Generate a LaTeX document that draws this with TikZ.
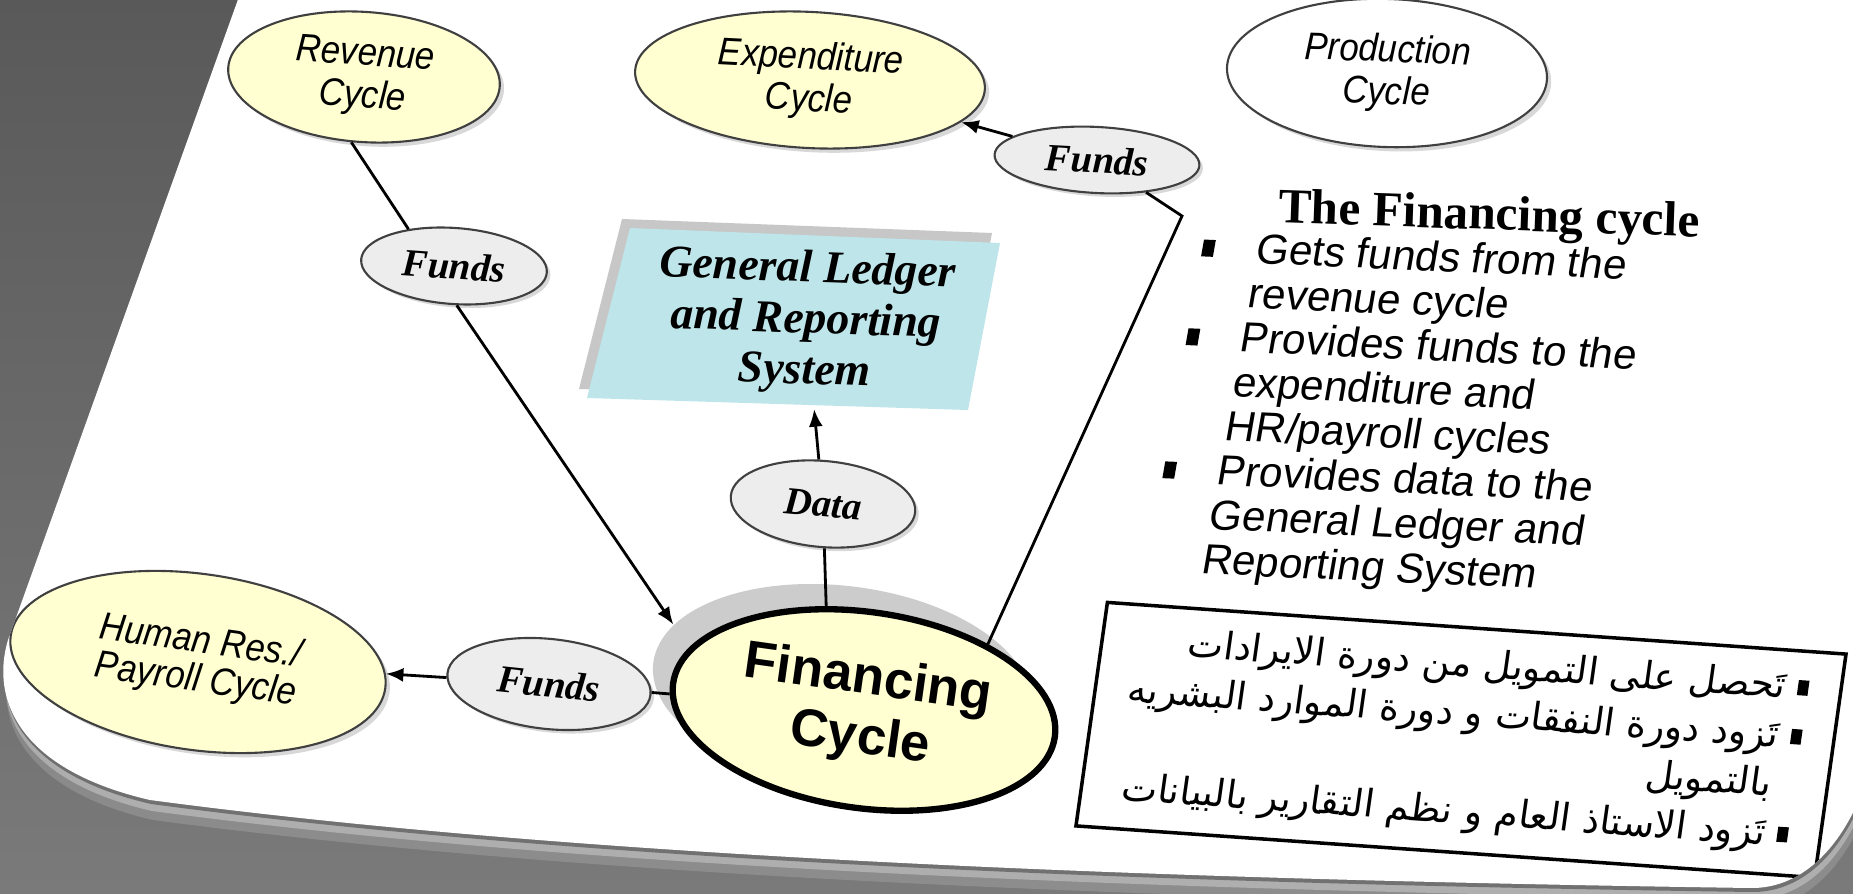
\documentclass[tikz,border=0pt]{standalone}
\usepackage{fontspec}
\setmainfont{Liberation Serif}
\setsansfont{Liberation Sans}
\newfontfamily\cyclefont[FakeStretch=0.9]{Liberation Sans}
\newfontfamily\arabicfont[Script=Arabic]{DejaVu Sans}
\TeXXeTstate=1
\usetikzlibrary{shapes.geometric}
\usetikzlibrary{arrows.meta}
\usetikzlibrary{shadows}
\usetikzlibrary{positioning}

\definecolor{bgtop}{HTML}{595959}
\definecolor{bgbottom}{HTML}{7A7A7A}
\definecolor{cycleyellow}{HTML}{FFFFD2}
\definecolor{flowgray}{HTML}{EDEDED}
\definecolor{ledgercyan}{HTML}{BEE6EA}
\newcommand{\sqbullet}{\rule[0.2ex]{0.28em}{0.4em}}
\newcommand{\panelpath}{(245,-20) -- (8,640) .. controls (-10,700) and (20,770) .. (150,800) .. controls (600,860) and (1200,880) .. (1750,888) .. controls (1800,889) and (1840,850) .. (1863,790) -- (1863,-20) -- cycle}

\begin{document}
\begin{tikzpicture}[x=0.01cm, y=-0.01cm,
    cyclenode/.style={ellipse, draw=black!75, line width=0.6pt, fill=cycleyellow, align=center, inner sep=0pt, font=\cyclefont\itshape\fontsize{11}{12}\selectfont, drop shadow={shadow xshift=1.2pt, shadow yshift=-1.2pt, opacity=0.3}},
    flownode/.style={ellipse, draw=black!75, line width=0.6pt, fill=flowgray, inner sep=0pt, font=\bfseries\itshape\fontsize{11}{12}\selectfont, drop shadow={shadow xshift=1pt, shadow yshift=-1pt, opacity=0.3}},
    link/.style={line width=0.8pt},
    flowarrow/.style={link, -{Latex[length=5pt,width=4pt]}}]
    \useasboundingbox (0,0) rectangle (1853,894);
    \shade [top color=bgtop, bottom color=bgbottom] (0,0) rectangle (1853,894);
    \fill [white, opacity=0.15, shift={(3,20)}] \panelpath;
    \fill [white, opacity=0.3, shift={(2,11)}] \panelpath;
    \fill [black, opacity=0.35, shift={(1,4)}] \panelpath;
    \fill [white] \panelpath;

    \begin{scope}
    \clip \panelpath;

    \node [cyclenode, minimum width=2.72cm, minimum height=1.3cm, rotate=-4] (revenue) at (364,77) {Revenue\\Cycle};
    \node [cyclenode, minimum width=3.5cm, minimum height=1.36cm, rotate=-3] (expenditure) at (810,80) {Expenditure\\Cycle};
    \node [cyclenode, fill=white, drop shadow={opacity=0}, minimum width=3.2cm, minimum height=1.48cm, rotate=-2] (production) at (1387,73) {Production\\Cycle};
    \node [cyclenode, minimum width=3.78cm, minimum height=1.76cm, rotate=-8, font=\cyclefont\itshape\fontsize{11}{11}\selectfont] (humanres) at (198,662) {Human Res./\\Payroll Cycle};

    \node [flownode, minimum width=2.05cm, minimum height=0.66cm, rotate=-3] (fundsexp) at (1097,160) {Funds};
    \node [flownode, minimum width=1.86cm, minimum height=0.76cm, rotate=-4] (fundsrev) at (454,266) {Funds};
    \node [flownode, minimum width=1.85cm, minimum height=0.86cm, rotate=-5] (data) at (823,504) {Data};
    \node [flownode, minimum width=2.04cm, minimum height=0.9cm, rotate=-6] (fundshr) at (549,684) {Funds};

    \node [ellipse, fill=black!20, minimum width=3.8cm, minimum height=2cm, rotate=-7] (finshadow) at (842,686) {};
    \node [ellipse, draw=black, line width=1.8pt, fill=cycleyellow, minimum width=3.76cm, minimum height=1.96cm, rotate=-8, align=center, font=\sffamily\bfseries\fontsize{15}{17}\selectfont] (financing) at (864,710) {Financing\\Cycle};

    \fill [black!22] (622,219) -- (992,233) -- (960,400) -- (579,389) -- cycle;
    \fill [ledgercyan] (630,228) -- (1000,243) -- (968,410) -- (587,398) -- cycle;
    \node [rotate=-2, minimum width=3.6cm, minimum height=1.72cm, align=center, font=\bfseries\itshape\fontsize{13}{14.5}\selectfont] (ledger) at (806,322) {General Ledger\\and Reporting\\System};

    \coordinate (bend) at (1182,216);
    \draw [link] (revenue.-97) -- (fundsrev.145);
    \draw [flowarrow] (fundsrev.-82) -- (finshadow.167);
    \draw [flowarrow] (fundsexp) -- (expenditure);
    \draw [link] (fundsexp) -- (bend) -- (financing.36);
    \draw [flowarrow] (data) -- (ledger);
    \draw [link] (data) -- (financing.118);
    \draw [link] (financing) -- (fundshr);
    \draw [flowarrow] (fundshr) -- (humanres);

    \node [rotate=-2, font=\bfseries\fontsize{14}{16}\selectfont] (fintitle) at (1489,218) {The Financing cycle};
    \node [anchor=north west, rotate=-2.5, xslant=0.13, align=left, inner sep=0pt, font=\sffamily\fontsize{12}{12.7}\selectfont] (finpoints) at (1259,232)
        {\llap{\sqbullet\hspace{12pt}}Gets funds from the\\
         revenue cycle\\
         \llap{\sqbullet\hspace{12pt}}Provides funds to the\\
         expenditure and\\
         HR/payroll cycles\\
         \llap{\sqbullet\hspace{12pt}}Provides data to the\\
         General Ledger and\\
         Reporting System};

    \node [draw=black, line width=1pt, rotate=-4, xslant=0.07, minimum width=7.4cm, minimum height=2.25cm, align=right, font=\arabicfont\fontsize{10.8}{14}\selectfont] (arabicbox) at (1461,740)
        {\beginR\sqbullet\ تَحصل على التمويل من دورة الايرادات\endR\\
         \beginR\sqbullet\ تَزود دورة النفقات و دورة الموارد البشريه\endR\\
         \beginR\hphantom{\sqbullet\ }بالتمويل\endR\\
         \beginR\sqbullet\ تَزود الاستاذ العام و نظم التقارير بالبيانات\endR};
    \end{scope}
\end{tikzpicture}
\end{document}
